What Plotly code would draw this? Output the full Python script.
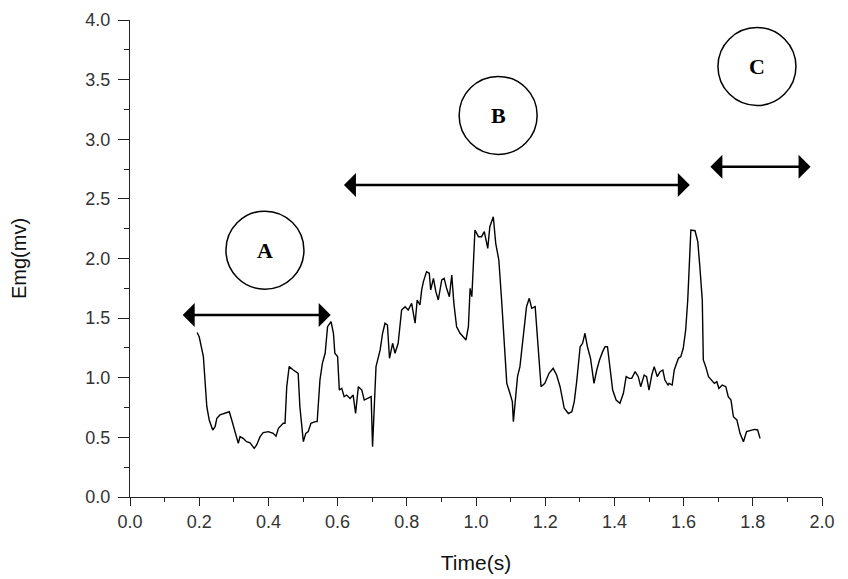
import plotly.graph_objects as go

time_s = [0.194, 0.200, 0.212, 0.217, 0.222, 0.229, 0.239, 0.246, 0.251, 0.260, 0.275, 0.287, 0.294,
          0.303, 0.313, 0.318, 0.328, 0.337, 0.347, 0.359, 0.366, 0.376, 0.385, 0.400, 0.414, 0.422,
          0.429, 0.443, 0.448, 0.453, 0.460, 0.472, 0.486, 0.491, 0.501, 0.508, 0.515, 0.523, 0.535,
          0.541, 0.549, 0.556, 0.564, 0.571, 0.581, 0.588, 0.592, 0.600, 0.605, 0.612, 0.619, 0.626,
          0.636, 0.645, 0.652, 0.660, 0.670, 0.677, 0.687, 0.697, 0.701, 0.706, 0.711, 0.723, 0.730,
          0.737, 0.744, 0.750, 0.759, 0.766, 0.775, 0.785, 0.795, 0.804, 0.814, 0.819, 0.824, 0.830,
          0.838, 0.843, 0.848, 0.857, 0.865, 0.869, 0.877, 0.884, 0.891, 0.901, 0.908, 0.915, 0.923,
          0.930, 0.936, 0.944, 0.954, 0.963, 0.971, 0.978, 0.983, 0.988, 0.992, 0.997, 1.007, 1.016,
          1.024, 1.034, 1.040, 1.050, 1.057, 1.066, 1.074, 1.082, 1.089, 1.098, 1.105, 1.108, 1.113,
          1.120, 1.127, 1.137, 1.146, 1.154, 1.161, 1.171, 1.178, 1.188, 1.199, 1.211, 1.223, 1.233,
          1.243, 1.255, 1.267, 1.277, 1.284, 1.291, 1.301, 1.308, 1.315, 1.322, 1.331, 1.341, 1.349,
          1.357, 1.366, 1.373, 1.380, 1.387, 1.395, 1.405, 1.416, 1.426, 1.434, 1.443, 1.450, 1.460,
          1.469, 1.476, 1.486, 1.493, 1.500, 1.508, 1.515, 1.524, 1.532, 1.540, 1.546, 1.555, 1.558,
          1.567, 1.573, 1.585, 1.592, 1.599, 1.606, 1.612, 1.616, 1.621, 1.633, 1.641, 1.647, 1.654,
          1.657, 1.664, 1.672, 1.681, 1.689, 1.696, 1.702, 1.712, 1.722, 1.729, 1.737, 1.744, 1.754,
          1.763, 1.773, 1.782, 1.795, 1.805, 1.814, 1.821]
emg_mv = [1.38, 1.344, 1.18, 0.925, 0.757, 0.646, 0.562, 0.59, 0.66, 0.688, 0.70, 0.715, 0.646,
          0.548, 0.45, 0.506, 0.49, 0.464, 0.455, 0.408, 0.436, 0.506, 0.54, 0.548, 0.534, 0.51,
          0.576, 0.618, 0.618, 0.925, 1.093, 1.065, 1.037, 0.757, 0.464, 0.534, 0.548, 0.618, 0.632,
          0.632, 0.981, 1.121, 1.205, 1.428, 1.47, 1.373, 1.205, 1.177, 0.897, 0.911, 0.841, 0.855,
          0.827, 0.855, 0.70, 0.925, 0.897, 0.813, 0.827, 0.841, 0.422, 0.841, 1.093, 1.233, 1.373,
          1.457, 1.442, 1.163, 1.289, 1.205, 1.289, 1.568, 1.596, 1.568, 1.624, 1.54, 1.457, 1.652,
          1.61, 1.736, 1.806, 1.889, 1.876, 1.736, 1.834, 1.722, 1.652, 1.82, 1.834, 1.75, 1.68,
          1.862, 1.624, 1.428, 1.373, 1.344, 1.317, 1.428, 1.75, 1.68, 1.904, 2.239, 2.183, 2.183,
          2.225, 2.085, 2.267, 2.35, 2.127, 1.987, 1.652, 1.289, 0.953, 0.87, 0.80, 0.632, 0.813,
          1.009, 1.093, 1.373, 1.596, 1.666, 1.582, 1.596, 1.344, 0.925, 0.953, 1.037, 1.079, 1.023,
          0.925, 0.744, 0.70, 0.715, 0.80, 0.967, 1.26, 1.289, 1.373, 1.26, 1.163, 0.953, 1.065,
          1.149, 1.219, 1.26, 1.26, 1.093, 0.897, 0.813, 0.786, 0.87, 1.009, 0.995, 0.995, 1.051,
          1.009, 0.925, 1.023, 1.009, 0.897, 1.023, 1.093, 1.009, 1.051, 1.065, 0.981, 0.939, 0.953,
          0.939, 1.065, 1.163, 1.177, 1.247, 1.40, 1.652, 1.987, 2.239, 2.233, 2.141, 1.931, 1.652,
          1.149, 1.093, 1.009, 0.981, 0.953, 0.967, 0.911, 0.939, 0.925, 0.841, 0.813, 0.673, 0.646,
          0.534, 0.464, 0.548, 0.562, 0.567, 0.562, 0.492]

phase_labels = ["A", "B", "C"]
phase_label_x = [0.39, 1.064, 1.812]
phase_label_y = [2.07, 3.20, 3.61]
phase_start = [0.148, 0.614, 1.673]
phase_end = [0.580, 1.618, 1.967]
phase_arrow_y = [1.526, 2.616, 2.77]

font_family = "Liberation Sans, Arial, sans-serif"

fig = go.Figure()
fig.add_trace(go.Scatter(x=time_s, y=emg_mv, mode="lines",
                         line=dict(color="black", width=1.4), showlegend=False))

# circles around phase labels (radius in pixel units converted to data units)
px_per_x = 692 / 2.0
px_per_y = 477 / 4.0
r_px = 39
for lab, cx, cy in zip(phase_labels, phase_label_x, phase_label_y):
    fig.add_shape(type="circle", xref="x", yref="y",
                  x0=cx - r_px / px_per_x, x1=cx + r_px / px_per_x,
                  y0=cy - r_px / px_per_y, y1=cy + r_px / px_per_y,
                  line=dict(color="black", width=1.5))
    fig.add_annotation(x=cx, y=cy, text="<b>" + lab + "</b>", showarrow=False,
                       font=dict(family="Liberation Serif, Times New Roman, serif",
                                 size=22, color="black"))

for x0, x1, ya in zip(phase_start, phase_end, phase_arrow_y):
    fig.add_annotation(x=x1, y=ya, ax=x0, ay=ya, xref="x", yref="y", axref="x", ayref="y",
                       text="", showarrow=True, arrowside="end+start", arrowhead=1,
                       arrowsize=1.6, arrowwidth=2.5, arrowcolor="black")

axis_common = dict(showline=True, linecolor="#222", linewidth=1.2, ticks="outside",
                   tickcolor="#222", tickwidth=1.2, showgrid=False, zeroline=False,
                   tickfont=dict(family=font_family, size=18, color="#333"),
                   mirror=False, automargin=False)

fig.update_xaxes(range=[0, 2.0], dtick=0.2, tick0=0, tickformat=".1f", ticklen=8,
                 minor=dict(ticks="outside", dtick=0.1, ticklen=4, tickcolor="#222", tickwidth=1.2),
                 title=dict(text="Time(s)", font=dict(family=font_family, size=21, color="#111"),
                            standoff=24),
                 **axis_common)
fig.update_yaxes(range=[0, 4.0], dtick=0.5, tick0=0, tickformat=".1f", ticklen=11,
                 ticklabelstandoff=4,
                 minor=dict(ticks="outside", dtick=0.25, ticklen=5, tickcolor="#222", tickwidth=1.2),
                 title=dict(text="Emg(mv)", font=dict(family=font_family, size=20, color="#111"),
                            standoff=58),
                 **axis_common)

fig.update_layout(width=840, height=571, plot_bgcolor="white", paper_bgcolor="white",
                  margin=dict(l=122, r=26, t=12, b=82), showlegend=False)

fig.write_html("out.html")
